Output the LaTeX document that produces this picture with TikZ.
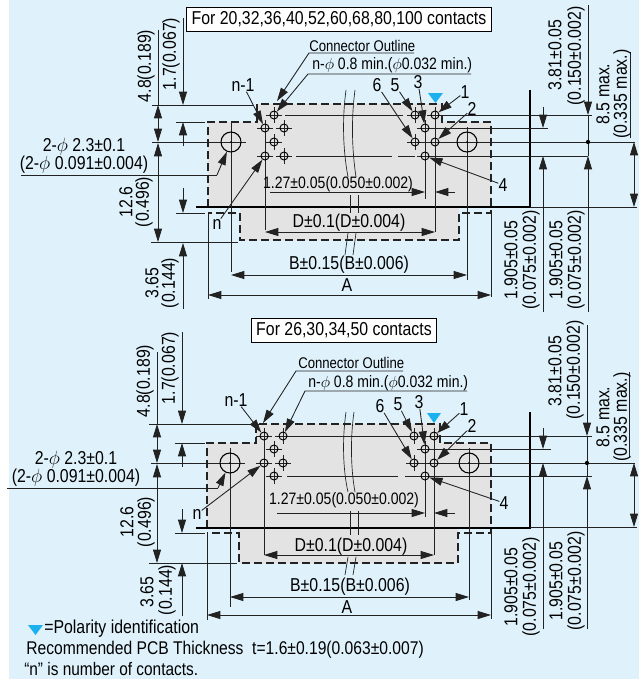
\documentclass[tikz,border=0pt]{standalone}
\usepackage{fontspec}
\setmainfont{Liberation Sans}[FakeStretch=0.85]
\usepackage{tikz}
\usetikzlibrary{arrows.meta}
\definecolor{sheetblue}{HTML}{DFF2FB}
\definecolor{boardgray}{HTML}{E3E3E3}
\definecolor{markblue}{HTML}{1BB0EE}
\definecolor{inkgray}{HTML}{222222}
\begin{document}
\begin{tikzpicture}[x=0.75pt,y=-0.75pt,font=\fontsize{14}{14}\selectfont,>={Stealth[inset=0pt,length=10pt,width=6pt]}]
% Line and text styles
\tikzstyle{dim}=[draw=inkgray,line width=0.65pt];
\tikzstyle{outline}=[draw=inkgray,line width=0.85pt,dash pattern=on 6pt off 3pt];
\tikzstyle{board edge}=[draw=black,line width=1.8pt];
\tikzstyle{brk}=[draw=inkgray,line width=0.5pt];
\tikzstyle{label}=[inner sep=0,text=black];
\tikzstyle{vert}=[inner sep=0,text=black,rotate=90];
\tikzstyle{note}=[inner sep=0,text=black,font=\fontsize{12.4}{12.4}\selectfont];
\tikzstyle{tag}=[inner sep=0,text=black,font=\fontsize{11.6}{11.6}\selectfont];
\tikzstyle{title box}=[draw=black,fill=white,line width=0.7pt,minimum height=18pt,inner sep=0];
\tikzstyle{contact}=[circle,draw=black,line width=0.7pt,inner sep=0,minimum size=6pt];
\tikzstyle{mount}=[circle,draw=black,line width=0.8pt,inner sep=0,minimum size=15pt];
\useasboundingbox (0,0) rectangle (639,679);
\fill[sheetblue] (9,0) rectangle (639,679);
%
% Upper drawing
\fill[boardgray] (257,104)--(442,104)--(442,122)--(491,122)--(491,207)--(459,207)--(459,240)--(240,240)--(240,207)--(208,207)--(208,122)--(257,122)--cycle;
\draw[outline] (208,207)--(208,122)--(257,122)--(257,104)--(442,104)--(442,122)--(491,122)--(491,213)--(459,213)--(459,240)--(240,240)--(240,213)--(208,213);
\draw[board edge] (196,207)--(530,207)--(530,90);
\draw[dim] (530,207)--(637,207);
% extension lines
\draw[dim] (152,105)--(253,105) (176,122)--(205,122) (176,213)--(205,213) (151,242)--(238,242);
\draw[dim] (152,142)--(246,142) (411,142)--(635,142);
\draw[dim] (285,115)--(403,115) (435,115)--(592,115) (418,128)--(548,128);
\draw[dim] (296,156)--(392,156) (398,156)--(415,156) (430,156)--(588,156);
\draw[dim] (231,122)--(231,272) (467,127)--(467,280);
\draw[dim] (208,213)--(208,299) (491,213)--(491,297);
\draw[dim] (265,128)--(265,230) (435,115)--(435,232) (425,128)--(425,199);
% dimension arrows
\draw[dim,->] (183,18)--(183,105);
\draw[dim,->] (183,146)--(183,122);
\draw[dim,->] (183,188)--(183,213);
\draw[dim,->] (183,309)--(183,243);
\draw[dim,<->] (158,105)--(158,142);
\draw[dim,<->] (158,143)--(158,242);
\draw[dim] (158,30)--(158,105);
\draw[dim,<->] (265,232)--(435,232);
\draw[dim,<->] (231,275)--(467,275);
\draw[dim,<->] (208,295)--(491,295);
\draw[dim,->] (270,192)--(425,192);
\draw[dim,->] (455,192)--(435,192);
\draw[dim,->] (543,107)--(543,128);
\draw[dim,->] (543,312)--(543,156);
\draw[dim,->] (588,5)--(588,115);
\draw[dim,->] (588,312)--(588,156);
\draw[dim] (588,115)--(588,156);
\fill[black] (588,142) circle (1.6pt);
\draw[dim,<->] (634,142)--(634,207);
\draw[dim] (630,52)--(630,138);
% break marks
\draw[brk] (346,90) .. controls (342,120) and (343,150) .. (348,177);
\draw[brk] (355,90) .. controls (351,120) and (352,150) .. (356,177);
\draw[brk] (350,195)--(350,213) (358,195)--(358,213);
\draw[brk] (348,233)--(345,255) (356,233)--(353,255);
% contacts and holes
\foreach \nm/\px/\py in {tna/274/115,tnb/265/128,tnc/284/128,tnd/274/142,tne/265/156,tnf/284/156,tf/415/115,ta/435/115,tc/425/128,te/415/142,tb/435/142,td/425/156}{
\draw[dim] (\px-8,\py)--(\px+8,\py) (\px,\py-8)--(\px,\py+8);
\node[contact](\nm) at (\px,\py){};
}
\node[mount](thl) at (231,142){};
\node[mount](thr) at (467,142){};
\fill (231,142) circle (0.7pt) (467,142) circle (0.7pt);
% polarity mark
\fill[markblue] (428,93)--(443,93)--(435.5,103)--cycle;
% labels
\node[title box,minimum width=229pt](tbox) at (339,19){For 20,32,36,40,52,60,68,80,100 contacts};
\node[vert](t17) at (171,54){1.7(0.067)};
\node[vert](t48) at (146,66){4.8(0.189)};
\node[vert](t126a) at (126,202){12.6};
\node[vert](t126b) at (144,202){(0.496)};
\node[vert](t365a) at (152,283){3.65};
\node[vert](t365b) at (170,283){(0.144)};
\node[label](tda) at (84,147){2-$\phi$ 2.3±0.1};
\node[label](tdb) at (84,165){(2-$\phi$ 0.091±0.004)};
\coordinate(tdl) at (21,175);
\coordinate(tdk) at (217,175);
\draw[dim] (tdl)--(tdk);
\draw[dim,->] (tdk)--(thl);
\node[label](tnlab) at (243,85){n-1};
\node[label](tnone) at (217,224){n};
\draw[dim,->] (tnlab)--(tnb);
\draw[dim,->] (tnone)--(tne);
\node[tag,anchor=west](tco) at (309,46){Connector Outline};
\coordinate(tcoa) at (414,53);
\coordinate(tcob) at (309,53);
\coordinate(tcoc) at (277,101);
\draw[dim,->] (tcoa)--(tcob)--(tcoc);
\node[note,anchor=west](tmin) at (312,65){n-$\phi$ 0.8 min.($\phi$0.032 min.)};
\coordinate(tmina) at (471,74);
\coordinate(tminb) at (308,74);
\draw[dim,->] (tmina)--(tminb)--(tna);
\node[label](tl1) at (465,92){1};
\node[label](tl2) at (472,109){2};
\node[label](tl3) at (418,82){3};
\node[label](tl4) at (503,185){4};
\node[label](tl5) at (395,85){5};
\node[label](tl6) at (377,85){6};
\draw[dim,->] (tl1)--(ta);
\draw[dim,->] (tl2)--(tb);
\draw[dim,->] (tl3)--(tc);
\draw[dim,->] (tl4)--(td);
\draw[dim,->] (tl5)--(tf);
\draw[dim,->] (tl6)--(te);
\node[note](t127) at (338,184){1.27±0.05(0.050±0.002)};
\node[label](tD) at (349,223){D±0.1(D±0.004)};
\node[label](tB) at (349,265){B±0.15(B±0.006)};
\node[label](tA) at (347,285){A};
\node[vert](t381a) at (555,55){3.81±0.05};
\node[vert](t381b) at (576,56){(0.150±0.002)};
\node[vert](t85a) at (603,94){8.5 max.};
\node[vert](t85b) at (622,94){(0.335 max.)};
\node[vert](t19a) at (511,260){1.905±0.05};
\node[vert](t19b) at (531,260){(0.075±0.002)};
\node[vert](t19c) at (556,260){1.905±0.05};
\node[vert](t19d) at (576,260){(0.075±0.002)};
%
% Lower drawing
\fill[boardgray] (256,424)--(440,424)--(440,443)--(491,443)--(491,528)--(458,528)--(458,563)--(239,563)--(239,528)--(207,528)--(207,443)--(256,443)--cycle;
\draw[outline] (207,528)--(207,443)--(256,443)--(256,424)--(440,424)--(440,443)--(491,443)--(491,533)--(458,533)--(458,563)--(239,563)--(239,533)--(207,533);
\draw[board edge] (196,528)--(530,528)--(530,412);
\draw[dim] (530,527)--(637,527);
% extension lines
\draw[dim] (149,424)--(262,424) (175,443)--(205,443) (175,533)--(205,533) (149,563)--(237,563);
\draw[dim] (151,463)--(245,463) (407,463)--(635,463);
\draw[dim] (290,436)--(406,436) (434,436)--(592,436) (417,449)--(551,449);
\draw[dim] (287,476)--(398,476) (405,476)--(420,476) (430,476)--(592,476);
\draw[dim] (230,448)--(230,607) (469,448)--(469,600);
\draw[dim] (207,533)--(207,620) (491,533)--(491,619);
\draw[dim] (264,436)--(264,555) (434,436)--(434,555) (425,449)--(425,517);
% dimension arrows
\draw[dim,->] (182,332)--(182,424);
\draw[dim,->] (182,467)--(182,443);
\draw[dim,->] (182,509)--(182,533);
\draw[dim,->] (182,616)--(182,563);
\draw[dim,<->] (157,424)--(157,463);
\draw[dim,<->] (157,464)--(157,563);
\draw[dim] (157,352)--(157,424);
\draw[dim,<->] (264,555)--(434,555);
\draw[dim,<->] (230,597)--(469,597);
\draw[dim,<->] (207,615)--(491,615);
\draw[dim,->] (277,513)--(425,513);
\draw[dim,->] (455,513)--(434,513);
\draw[dim,->] (543,428)--(543,449);
\draw[dim,->] (543,629)--(543,463);
\draw[dim,->] (587,325)--(587,436);
\draw[dim,->] (587,629)--(587,476);
\draw[dim] (587,436)--(587,476);
\fill[black] (587,463) circle (1.6pt);
\draw[dim,<->] (634,463)--(634,527);
\draw[dim] (629,372)--(629,457);
% break marks
\draw[brk] (346,412) .. controls (342,440) and (343,470) .. (348,492);
\draw[brk] (354,412) .. controls (350,440) and (351,470) .. (355,492);
\draw[brk] (350,511)--(350,535) (358,511)--(358,535);
\draw[brk] (348,557)--(345,575) (356,557)--(353,575);
% contacts and holes
\foreach \nm/\px/\py in {bna/264/436,bnb/283/436,bnc/274/449,bnd/264/463,bne/283/463,bnf/274/476,bf/414/436,ba/434/436,bc/425/449,be/414/463,bb/434/463,bd/425/476}{
\draw[dim] (\px-8,\py)--(\px+8,\py) (\px,\py-8)--(\px,\py+8);
\node[contact](\nm) at (\px,\py){};
}
\node[mount](bhl) at (230,463){};
\node[mount](bhr) at (469,463){};
\fill (230,463) circle (0.7pt) (469,463) circle (0.7pt);
% polarity mark
\fill[markblue] (427,413)--(441,413)--(434,423)--cycle;
% labels
\node[title box,minimum width=139pt](bbox) at (344,330){For 26,30,34,50 contacts};
\node[vert](b17) at (170,368){1.7(0.067)};
\node[vert](b48) at (145,381){4.8(0.189)};
\node[vert](b126a) at (127,522){12.6};
\node[vert](b126b) at (146,522){(0.496)};
\node[vert](b365a) at (147,592){3.65};
\node[vert](b365b) at (167,590){(0.144)};
\node[label](bda) at (76,460){2-$\phi$ 2.3±0.1};
\node[label](bdb) at (76,478){(2-$\phi$ 0.091±0.004)};
\coordinate(bdl) at (7,488);
\coordinate(bdk) at (218,488);
\draw[dim] (bdl)--(bdk);
\draw[dim,->] (bdk)--(bhl);
\node[label](bnlab) at (236,400){n-1};
\node[label](bnone) at (197,514){n};
\draw[dim,->] (bnlab)--(bna);
\draw[dim,->] (bnone)--(bnd);
\node[tag,anchor=west](bco) at (298,363){Connector Outline};
\coordinate(bcoa) at (403,371);
\coordinate(bcob) at (296,371);
\coordinate(bcoc) at (263,423);
\draw[dim,->] (bcoa)--(bcob)--(bcoc);
\node[note,anchor=west](bmin) at (308,383){n-$\phi$ 0.8 min.($\phi$0.032 min.)};
\coordinate(bmina) at (467,391);
\coordinate(bminb) at (305,391);
\draw[dim,->] (bmina)--(bminb)--(bnb);
\node[label](bl1) at (464,409){1};
\node[label](bl2) at (472,426){2};
\node[label](bl3) at (419,402){3};
\node[label](bl4) at (504,503){4};
\node[label](bl5) at (398,404){5};
\node[label](bl6) at (380,406){6};
\draw[dim,->] (bl1)--(ba);
\draw[dim,->] (bl2)--(bb);
\draw[dim,->] (bl3)--(bc);
\draw[dim,->] (bl4)--(bd);
\draw[dim,->] (bl5)--(bf);
\draw[dim,->] (bl6)--(be);
\node[note](b127) at (344,500){1.27±0.05(0.050±0.002)};
\node[label](bD) at (351,547){D±0.1(D±0.004)};
\node[label](bB) at (350,587){B±0.15(B±0.006)};
\node[label](bA) at (347,607){A};
\node[vert](b381a) at (555,371){3.81±0.05};
\node[vert](b381b) at (575,370){(0.150±0.002)};
\node[vert](b85a) at (603,417){8.5 max.};
\node[vert](b85b) at (622,417){(0.335 max.)};
\node[vert](b19a) at (511,587){1.905±0.05};
\node[vert](b19b) at (531,587){(0.075±0.002)};
\node[vert](b19c) at (556,581){1.905±0.05};
\node[vert](b19d) at (576,581){(0.075±0.002)};
%
% Notes at the foot
\fill[markblue] (28,625)--(43,625)--(35.5,635)--cycle;
\node[label,anchor=west](legend) at (44,629){=Polarity identification};
\node[label,anchor=west,font=\fontsize{13.8}{13.8}\selectfont](thick) at (26,650){Recommended PCB Thickness\ \ t=1.6±0.19(0.063±0.007)};
\node[label,anchor=west,font=\fontsize{13.6}{13.6}\selectfont](count) at (24,669){“n” is number of contacts.};
\end{tikzpicture}
\end{document}
